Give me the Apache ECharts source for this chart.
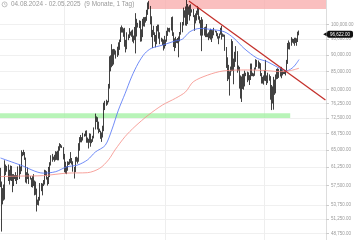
<!DOCTYPE html>
<html><head><meta charset="utf-8">
<script src="https://cdn.jsdelivr.net/npm/echarts@6/dist/echarts.min.js"></script>
<style>html,body{margin:0;padding:0;background:#fff}#c{width:360px;height:240px}</style>
</head><body><div id="c"></div>
<script>
// values in thousands of USD
const firstOpen = 60.7;
const closes = [
58.1,54.0,56.0,55.1,61.7,60.9,60.9,58.7,59.4,60.6,
58.7,57.6,58.9,59.5,58.4,59.5,59.0,61.2,60.4,64.1,
64.2,64.3,62.9,59.4,59.0,59.4,59.1,58.9,57.3,59.1,
57.5,57.9,56.2,53.9,54.4,54.9,57.0,57.6,57.4,58.1,
60.5,60.0,59.2,58.2,60.3,61.8,62.9,63.2,63.4,63.6,
63.3,64.3,63.1,65.2,65.8,65.9,65.6,63.3,60.8,60.6,
60.8,62.1,62.1,62.8,62.2,62.1,60.6,60.3,62.4,63.2,
62.9,66.1,67.0,67.6,67.4,68.4,68.4,69.0,67.4,67.4,
66.7,68.2,66.6,67.0,68.0,69.9,72.7,72.3,70.2,69.5,
69.3,68.7,67.8,69.3,75.6,75.9,76.5,76.7,80.5,88.7,
87.9,90.6,87.2,91.0,90.6,89.8,90.5,92.3,94.3,98.9,
98.9,97.7,98.0,93.0,91.9,95.9,95.6,97.5,96.4,97.2,
95.9,96.0,98.8,96.6,99.9,99.9,101.2,97.4,96.7,101.2,
100.0,101.4,101.4,104.3,106.0,106.1,100.0,97.5,97.8,97.2,
95.1,94.7,98.7,99.3,95.8,94.2,95.1,93.7,92.6,93.4,
94.4,96.9,98.1,98.2,98.3,102.1,96.9,95.0,92.5,94.7,
94.6,94.5,94.5,96.5,100.5,99.8,104.5,104.4,101.1,102.0,
106.1,103.7,103.9,104.8,104.7,102.6,102.1,101.3,103.7,104.7,
102.4,100.6,97.7,101.4,97.9,96.6,96.6,96.5,96.5,96.2,
97.4,95.7,97.9,96.6,97.5,97.6,96.1,95.8,95.5,96.6,
98.3,96.1,96.6,96.3,91.5,88.7,84.7,84.4,84.4,86.0,
94.3,86.1,87.2,90.6,89.9,86.7,86.2,80.7,78.5,82.9,
83.7,81.1,84.0,84.3,82.6,84.0,82.7,86.8,84.2,84.0,
83.8,86.1,87.5,87.4,86.9,87.2,84.3,82.6,82.3,82.5,
85.2,82.5,83.1,83.8,83.5,78.2,79.2,76.3,82.6,79.6,
83.4,85.3,83.7,84.5,83.6,84.0,84.9,84.4,85.1,85.1,
87.5,93.4,93.7,93.9,94.7,94.6,93.8,94.9,94.3,94.2,
96.5,96.62];
const highs = [
61.1,58.3,57.0,57.7,62.7,61.8,61.5,61.8,60.7,61.6,
61.5,59.8,59.8,59.6,60.2,59.6,61.4,61.8,61.4,64.9,
64.5,65.0,64.5,63.3,60.2,61.2,59.9,59.4,59.0,59.4,
59.8,58.5,58.3,56.9,54.8,55.3,58.0,58.0,57.9,58.6,
60.7,60.6,60.4,59.2,61.3,62.3,63.8,64.1,63.5,63.9,
64.7,64.6,64.8,65.8,66.5,66.3,66.0,65.6,64.1,62.4,
61.4,62.5,62.4,63.0,64.5,63.2,62.5,61.3,63.4,63.5,
63.3,66.5,67.9,68.4,67.9,68.9,68.7,69.4,69.5,67.8,
67.5,68.8,68.7,67.4,68.2,70.2,73.6,72.9,72.7,71.6,
69.9,69.4,69.0,70.6,76.4,76.9,77.2,76.9,81.5,89.6,
89.9,93.4,91.8,91.9,91.8,91.4,92.6,94.0,94.9,99.0,
99.6,99.0,98.6,98.8,94.8,97.3,96.6,98.7,97.5,97.9,
98.2,96.2,99.1,103.9,101.9,100.5,101.4,101.2,98.3,101.9,
102.5,102.5,102.6,105.1,107.8,108.3,106.5,102.8,98.1,99.5,
97.3,96.4,99.4,99.9,99.9,97.3,95.5,95.2,94.9,96.1,
94.9,97.8,98.9,98.7,98.8,102.5,102.7,97.3,95.3,95.8,
95.0,95.4,95.9,97.4,100.7,100.8,105.9,104.9,106.3,109.4,
107.2,106.3,106.8,107.1,105.3,105.4,103.2,103.8,104.8,106.5,
106.0,102.8,101.5,102.5,101.7,99.0,99.2,100.1,96.9,97.3,
98.0,98.5,98.1,98.0,98.8,97.9,97.7,97.0,96.0,96.9,
98.8,99.5,96.9,96.6,96.5,92.5,89.3,87.0,85.1,86.5,
95.0,94.4,88.9,91.0,92.8,91.2,86.8,86.4,83.9,83.6,
84.3,84.4,85.3,84.7,85.0,84.8,84.0,87.4,87.4,84.7,
84.5,86.2,88.7,88.5,88.3,87.8,87.5,84.6,83.5,83.9,
85.5,88.5,83.9,84.7,84.2,83.7,81.2,80.8,83.5,82.7,
84.2,85.8,86.0,85.8,86.4,86.4,85.4,85.0,85.5,85.3,
88.5,93.8,94.6,94.0,95.7,95.2,95.1,95.5,95.5,95.3,
97.5,97.9];
const lows = [
57.2,49.1,53.9,54.6,54.8,59.6,60.3,58.4,57.7,58.5,
58.4,56.2,57.4,58.8,58.4,57.8,58.6,58.8,59.8,60.4,
63.6,63.8,62.8,58.1,57.9,58.8,57.8,58.7,57.2,57.1,
57.4,55.6,55.7,52.6,53.8,53.7,54.6,56.4,55.6,57.4,
57.7,59.5,58.7,57.5,57.8,59.2,61.6,62.4,62.8,62.4,
62.7,62.8,62.7,62.7,64.8,65.5,65.4,62.9,60.2,59.9,
59.8,60.5,61.7,61.8,62.1,61.8,60.3,58.9,60.2,62.4,
62.0,62.4,64.8,66.7,66.7,67.1,68.0,68.1,66.6,66.6,
65.3,66.6,65.7,66.5,66.8,67.6,69.7,71.5,69.7,68.8,
69.1,67.5,66.8,67.8,69.3,74.5,75.6,75.9,76.5,80.2,
85.1,86.3,86.7,87.1,90.1,88.9,89.4,89.9,91.6,94.1,
97.2,97.2,95.8,92.6,90.8,91.8,94.7,95.4,96.2,95.8,
94.2,93.7,94.7,90.5,95.9,98.9,98.7,94.2,94.3,95.7,
99.3,99.2,100.6,101.2,103.3,105.3,100.0,95.7,92.2,96.4,
94.2,92.4,93.4,97.6,95.2,93.4,94.2,93.1,91.4,92.0,
92.8,94.2,96.1,97.5,97.3,97.9,96.1,92.5,91.2,92.2,
93.8,93.7,89.3,94.3,96.5,97.3,99.6,102.3,99.6,99.5,
100.1,103.3,101.3,102.8,104.1,102.5,97.8,100.3,101.3,103.3,
101.6,100.3,96.2,91.2,96.2,96.2,95.7,95.7,95.7,94.7,
95.3,94.9,94.1,95.3,96.3,97.3,96.0,95.2,93.4,95.3,
96.5,94.9,95.8,95.8,91.3,86.1,82.3,82.8,78.3,83.8,
85.1,85.2,81.4,86.4,87.9,84.7,85.3,80.2,77.5,76.6,
80.1,79.9,80.8,83.7,82.0,82.5,81.2,82.6,83.7,83.7,
83.6,83.8,85.6,86.4,85.9,85.9,83.7,81.6,81.6,81.3,
82.4,82.3,81.2,81.7,82.4,77.2,74.5,76.2,74.6,78.5,
78.9,82.8,82.9,83.2,83.6,83.1,83.9,84.3,84.3,83.9,
85.1,87.3,91.8,91.7,92.9,93.9,93.6,92.9,93.8,92.9,
94.1,96.3];
// moving averages: [day index, value]
const blueMA = [[0,63.2],[18,61.7],[39,60.0],[50,60.3],[60,61.3],[70,61.7],[79,62.8],[86,64.5],[95,66.0],[101,69.6],[107,74.5],[113,78.8],[119,83.5],[125,87.5],[131,90.5],[137,92.1],[147,93.1],[159,94.5],[165,95.0],[172,97.5],[181,98.6],[190,98.3],[203,97.5],[212,95.3],[221,92.1],[233,89.0],[242,88.0],[251,86.4],[260,85.3],[266,86.4],[271,88.6]];
const redMA = [[0,59.3],[18,59.4],[39,59.5],[60,60.0],[79,60.1],[90,61.0],[98,62.8],[104,65.0],[113,68.0],[122,70.4],[134,73.2],[147,75.8],[159,77.6],[168,79.3],[175,82.1],[188,84.0],[202,85.2],[224,85.5],[242,85.3],[254,85.0],[263,85.3],[271,86.0]];
const trendLine = [[171,108.3],[295,77.1]];
const supportZone = [72.5, 73.7];
const supportEndDay = 263;
const resistanceZone = [105.4];
const resistanceStartDay = 134;
const yTicks = [48.75,51.25,53.75,57.5,61.25,65,68.75,72.5,76.25,80,85,90,95,100];
const gridDays = [58,150,240];
const lastPrice = 96.622;
const headerText = '04.08.2024 - 02.05.2025  (9 Monate, 1 Tag)';
const slotCount = 296;

const days = [];
const t0 = Date.UTC(2024,7,4);
for (let i=0;i<slotCount;i++){ days.push(new Date(t0+i*864e5).toISOString().slice(0,10)); }
const candles = closes.map((c,i)=>[i===0?firstOpen:closes[i-1], c, lows[i], highs[i]]);
const fmt = v => (v*1000).toLocaleString('en-US',{minimumFractionDigits:2,maximumFractionDigits:2});
const FONT = 'Liberation Sans';

const chart = echarts.init(document.getElementById('c'), null, {renderer:'canvas'});
chart.setOption({
  animation:false,
  backgroundColor:'#fff',
  title:{text:headerText,left:11,top:1.2,padding:0,textStyle:{fontSize:6.4,color:'#999',fontWeight:'normal',fontFamily:FONT}},
  graphic:[
    {type:'circle',shape:{cx:4.6,cy:4.4,r:2.5},style:{fill:'none',stroke:'#999',lineWidth:0.6},z:10},
    {type:'polyline',shape:{points:[[4.6,2.9],[4.6,4.4],[5.7,5.1]]},style:{fill:'none',stroke:'#999',lineWidth:0.5},z:10}
  ],
  grid:{left:0,right:34,top:0,bottom:0},
  xAxis:{type:'category',data:days,boundaryGap:true,
    axisLine:{show:false},axisTick:{show:false},axisLabel:{show:false},
    splitLine:{show:true,interval:(i)=>gridDays.includes(i),lineStyle:{color:'#eeeeee',width:1}}},
  yAxis:{type:'log',logBase:10,position:'right',min:47.7,max:108.7,
    axisLine:{show:true,lineStyle:{color:'#dddddd',width:1}},
    axisTick:{show:true,length:3,customValues:yTicks,lineStyle:{color:'#cccccc'}},
    axisLabel:{customValues:yTicks,margin:5,fontSize:4.5,color:'#999',fontFamily:FONT,formatter:fmt},
    splitLine:{show:true,lineStyle:{color:'#f0f0f0',width:1}}},
  series:[
    {type:'candlestick',data:candles,barWidth:1,
      itemStyle:{color:'#111',color0:'#111',borderColor:'#111',borderColor0:'#111',borderWidth:0.8},
      markArea:{silent:true,itemStyle:{color:'rgba(160,240,160,0.75)'},
        data:[
          [{yAxis:supportZone[0]},{xAxis:days[supportEndDay],yAxis:supportZone[1]}],
          [{xAxis:days[resistanceStartDay],yAxis:resistanceZone[0],itemStyle:{color:'rgba(248,170,170,0.75)'}},{}]
        ]},
      markLine:{silent:true,symbol:['none','none'],lineStyle:{color:'rgba(0,0,0,0)',width:0},
        label:{show:true,position:'end',distance:1,formatter:()=>fmt(lastPrice),color:'#fff',backgroundColor:'#111',
          padding:[1,3,1,3],borderRadius:2,fontSize:4.5,fontFamily:FONT,opacity:1},
        data:[{yAxis:lastPrice}]},
      markPoint:{silent:true,symbol:'triangle',symbolSize:[4,3.5],symbolRotate:90,symbolOffset:[-0.5,0],
        itemStyle:{color:'#111'},label:{show:false},
        data:[{coord:[days[slotCount-1],lastPrice]}]},
      z:3
    },
    {type:'line',data:blueMA,showSymbol:false,smooth:0.3,lineStyle:{color:'#4d6ef5',width:0.8},z:4},
    {type:'line',data:redMA,showSymbol:false,smooth:0.3,lineStyle:{color:'#f58c84',width:0.8},z:4},
    {type:'line',data:trendLine,showSymbol:false,lineStyle:{color:'#c4302b',width:1.3},z:5}
  ]
});
</script></body></html>
